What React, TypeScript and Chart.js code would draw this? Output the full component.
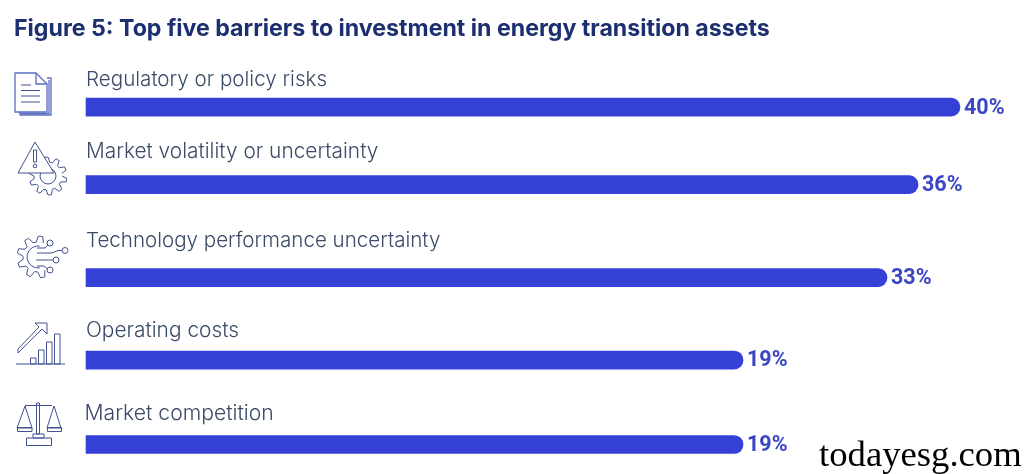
import React, { useEffect, useRef } from "react";
import { Chart, registerables } from "chart.js";

Chart.register(...registerables);

const titleText = "Figure 5: Top five barriers to investment in energy transition assets";
const categories = [
  "Regulatory or policy risks",
  "Market volatility or uncertainty",
  "Technology performance uncertainty",
  "Operating costs",
  "Market competition",
];
// Printed percentages
const valueLabels = ["40%", "36%", "33%", "19%", "19%"];
// The reference's bars are not proportional to the printed numbers: lengths as drawn
const barLengths = [40, 38.08, 36.66, 30.07, 30.07];
// The rows are unevenly spaced in the reference
const rowPositions = [0, 0.917, 2.018, 2.994, 3.994];

const BAR = "#3540d6";
const TEXT = "#3b4a68";
const NAVY = "#1c2f70";
const ICON = "#42528f";
const labelLift = [27, 32.5, 36.5, 29, 30.5];
const labelNudge = [0, 0, 0, 0, -1.5];
const labelSizes = [20.6, 20.85, 20.55, 20.9, 21.2];

function path(ctx: CanvasRenderingContext2D, pts: number[][], close = false) {
  ctx.beginPath();
  pts.forEach((p, i) => (i ? ctx.lineTo(p[0], p[1]) : ctx.moveTo(p[0], p[1])));
  if (close) ctx.closePath();
  ctx.stroke();
}

function circle(ctx: CanvasRenderingContext2D, x: number, y: number, r: number) {
  ctx.beginPath();
  ctx.arc(x, y, r, 0, Math.PI * 2);
  ctx.stroke();
}

function gear(
  ctx: CanvasRenderingContext2D,
  cx: number,
  cy: number,
  rIn: number,
  rOut: number,
  teeth: number,
  from: number,
  to: number
) {
  const step = (Math.PI * 2) / teeth;
  ctx.beginPath();
  let first = true;
  for (let a = from; a < to - 1e-6; a += step) {
    const seg = [
      [a, rIn],
      [a + step * 0.2, rOut],
      [a + step * 0.5, rOut],
      [a + step * 0.7, rIn],
    ];
    seg.forEach(([t, r]) => {
      const x = cx + Math.cos(t) * r;
      const y = cy + Math.sin(t) * r;
      if (first) {
        ctx.moveTo(x, y);
        first = false;
      } else ctx.lineTo(x, y);
    });
  }
  ctx.stroke();
}

function drawIcons(ctx: CanvasRenderingContext2D) {
  ctx.save();
  ctx.strokeStyle = ICON;
  ctx.lineWidth = 1;
  ctx.lineJoin = "round";

  // Document
  ctx.strokeStyle = "#5a6cc0";
  ctx.lineWidth = 1.3;
  path(ctx, [[15, 73], [36, 73], [47, 84], [47, 112], [15, 112]], true);
  path(ctx, [[36, 73], [36, 84], [47, 84]]);
  path(ctx, [[47, 78], [51, 78], [51, 115], [20, 115], [20, 112]]);
  path(ctx, [[49, 80], [49, 113.5], [20, 113.5]]);
  ctx.strokeStyle = ICON;
  ctx.lineWidth = 1;
  path(ctx, [[21, 85], [31, 85]]);
  path(ctx, [[21, 90.5], [40, 90.5]]);
  path(ctx, [[21, 96], [40, 96]]);
  path(ctx, [[21, 102], [40, 102]]);

  // Warning and gear
  gear(ctx, 48, 176, 14, 19, 10, 0, Math.PI * 2);
  ctx.beginPath();
  ctx.arc(48, 176, 8, 0, Math.PI * 2);
  ctx.stroke();
  ctx.beginPath();
  ctx.moveTo(35, 142);
  ctx.lineTo(54, 173);
  ctx.lineTo(18, 173);
  ctx.closePath();
  ctx.fillStyle = "#fff";
  ctx.fill();
  ctx.stroke();
  ctx.strokeRect(33.5, 150, 3, 12);
  circle(ctx, 35, 166, 1.8);

  // Gear with circuit
  gear(ctx, 38, 257, 15, 21, 9, Math.PI * 0.35, Math.PI * 1.65);
  ctx.beginPath();
  ctx.arc(38, 257, 11, Math.PI * 0.45, Math.PI * 1.55);
  ctx.stroke();
  circle(ctx, 50, 243, 3);
  circle(ctx, 65, 250.5, 3);
  circle(ctx, 56, 260, 3);
  circle(ctx, 50, 270, 3);
  path(ctx, [[37, 253], [52, 253], [58, 250.5], [62, 250.5]]);
  path(ctx, [[37, 248], [45, 248], [48, 245]]);
  path(ctx, [[36, 260], [53, 260]]);
  path(ctx, [[37, 266], [44, 266], [47.5, 269]]);

  // Rising chart
  path(ctx, [[16, 364], [65, 364]]);
  ctx.strokeRect(30.5, 358, 5.5, 6);
  ctx.strokeRect(38.5, 350, 5.5, 14);
  ctx.strokeRect(46.5, 342, 5.5, 22);
  ctx.strokeRect(54.5, 334, 5.5, 30);
  path(ctx, [[18, 353], [42, 329], [47, 334], [47, 323], [35, 323], [39, 327], [18, 349]], true);

  // Scales
  ctx.strokeRect(36.5, 403, 3, 31);
  path(ctx, [[25, 405.5], [52, 405.5]]);
  path(ctx, [[25, 406], [17, 428], [32, 428]], true);
  path(ctx, [[54, 406], [47, 428], [61, 428]], true);
  ctx.strokeRect(17.5, 427.5, 14.5, 4);
  ctx.strokeRect(47.5, 427.5, 14, 4);
  ctx.strokeRect(33, 434, 11, 4);
  ctx.strokeRect(26.5, 438, 25, 7.5);
  ctx.restore();
}

const textPlugin = {
  id: "rowText",
  afterDatasetsDraw(chart: any) {
    const { ctx, scales } = chart;
    drawIcons(ctx);
    ctx.save();
    ctx.textBaseline = "middle";
    categories.forEach((name, i) => {
      const y = scales.y.getPixelForValue(rowPositions[i]);
      ctx.font = `300 ${labelSizes[i]}px Inter`;
      ctx.fillStyle = TEXT;
      ctx.textAlign = "left";
      ctx.fillText(name, scales.x.getPixelForValue(0) + labelNudge[i], y - labelLift[i]);
      ctx.font = "700 21.5px Roboto";
      ctx.fillStyle = "#3a46c4";
      ctx.fillText(valueLabels[i], scales.x.getPixelForValue(barLengths[i]) + 4, y + 1);
    });
    ctx.font = "36.7px 'Liberation Serif'";
    ctx.fillStyle = "#000";
    ctx.textBaseline = "alphabetic";
    ctx.fillText("todayesg.com", 819, 466);
    ctx.restore();
  },
};

export default function App() {
  const ref = useRef<HTMLCanvasElement | null>(null);
  useEffect(() => {
    const chart = new Chart(ref.current!, {
      type: "bar",
      data: {
        datasets: [
          {
            data: barLengths.map((x, i) => ({ x, y: rowPositions[i] })),
            backgroundColor: BAR,
            barThickness: 18,
            borderSkipped: false,
            borderRadius: { topLeft: 0, bottomLeft: 0, topRight: 9, bottomRight: 9 },
          },
        ],
      },
      options: {
        indexAxis: "y",
        responsive: false,
        animation: false,
        layout: { padding: { left: 14, right: 0, top: 0, bottom: 0 } },
        scales: {
          x: { type: "linear", display: false, min: -3.295, max: 42.93, grid: { display: false } },
          y: { type: "linear", display: false, reverse: true, offset: false, min: -0.644, max: 4.343, grid: { display: false } },
        },
        plugins: {
          legend: { display: false },
          tooltip: { enabled: false },
          title: {
            display: true,
            text: titleText,
            align: "start",
            color: NAVY,
            font: { family: "Inter", size: 23.15, weight: "bold" },
            padding: { top: 15, bottom: 10 },
          },
        },
      },
      plugins: [textPlugin],
    } as any);
    return () => chart.destroy();
  }, []);
  return (
    <div style={{ position: "fixed", left: 0, top: 0, width: 1024, height: 474, background: "#fff" }}>
      <canvas ref={ref} width={1024} height={474} style={{ display: "block" }} />
    </div>
  );
}
